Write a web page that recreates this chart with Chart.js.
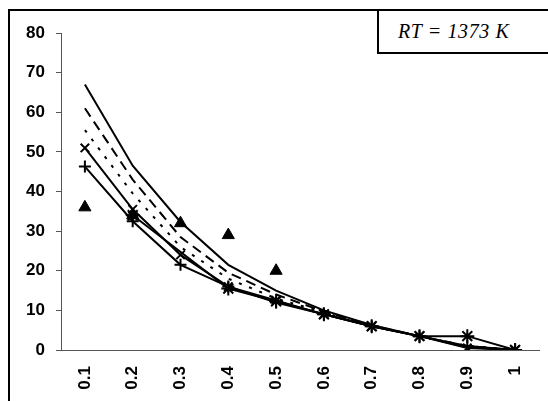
<!DOCTYPE html>
<html lang="en">
<head>
    <meta charset="UTF-8">
    <title>RT = 1373 K</title>
    <script src="https://cdn.jsdelivr.net/npm/chart.js"></script>
    <style>
        body { margin: 0; background: #fff; }
        #wrap { position: relative; width: 548px; height: 401px; overflow: hidden; }
        #frame { position: absolute; left: 8px; top: 9px; width: 600px; height: 500px;
                 border-top: 2px solid #000; border-left: 2px solid #000; }
        #rtBox { position: absolute; left: 377px; top: 9px; width: 200px; height: 41px;
                 border-top: 2px solid #000; border-left: 2px solid #000; border-bottom: 2px solid #000;
                 font: italic 20px "Liberation Serif", "Times New Roman", serif; letter-spacing: 0.6px;
                 line-height: 41px; padding-left: 19px; box-sizing: content-box; background: #fff; }
        canvas { position: absolute; left: 0; top: 0; }
    </style>
</head>
<body>
<div id="wrap">
    <div id="frame"></div>
    <canvas id="chart" width="548" height="401"></canvas>
    <div id="rtBox">RT = 1373 K</div>
</div>

<script>
    // x categories and the series
    const categories = ['0.1', '0.2', '0.3', '0.4', '0.5', '0.6', '0.7', '0.8', '0.9', '1'];
    const solidTop   = [67, 46.5, 32.3, 21.5, 15, 10, 6.3, 3.5, 0.7, 0];
    const dashed     = [61, 43, 28.5, 19.5, 14, 9.7, 6.2, 3.5, 1, 0];
    const dotted     = [55.5, 39.5, 26, 18, 13, 9.5, 6, 3.5, 1, 0];
    const crossLine  = [51, 35.5, 24, 16, 12.5, 9, 6, 3.5, 0.5, 0];
    const plusLine   = [46.3, 32.5, 21.5, 16, 12, 9, 6, 3.5, 1, 0];
    const starLine   = [null, 34, null, 15.5, 12.3, 9, 6, 3.5, 3.5, 0];
    const triangles  = [36, 34, 32, 29, 20, null, null, null, null, null];
    const yTicks = [0, 10, 20, 30, 40, 50, 60, 70, 80];

    const tickFont = { family: 'Liberation Sans, Arial, sans-serif', size: 17, weight: 'bold' };

    function lineSet(data, dash, style, radius) {
        return {
            data: data,
            borderColor: '#000',
            backgroundColor: '#000',
            borderWidth: 2,
            borderDash: dash,
            pointStyle: style || 'circle',
            pointRadius: style ? radius : 0,
            pointBorderWidth: 2,
            pointBorderColor: '#000',
            tension: 0,
            spanGaps: true
        };
    }

    const ctx = document.getElementById('chart').getContext('2d');
    new Chart(ctx, {
        type: 'line',
        data: {
            labels: categories,
            datasets: [
                lineSet(solidTop, []),
                lineSet(dashed, [10, 6]),
                lineSet(dotted, [3, 8]),
                lineSet(crossLine, [], 'crossRot', 6),
                lineSet(plusLine, [], 'cross', 6),
                lineSet(starLine, [], 'star', 7),
                {
                    data: triangles,
                    showLine: false,
                    pointStyle: 'triangle',
                    pointRadius: 7,
                    pointBackgroundColor: '#000',
                    pointBorderColor: '#000',
                    pointBorderWidth: 1
                }
            ]
        },
        options: {
            responsive: false,
            animation: false,
            layout: { padding: { top: 33, right: 8, left: 0, bottom: 0 } },
            plugins: { legend: { display: false }, tooltip: { enabled: false } },
            scales: {
                x: {
                    offset: true,
                    grid: { display: false },
                    border: { display: true, color: '#555', width: 1 },
                    ticks: { font: tickFont, color: '#000', minRotation: 90, maxRotation: 90, padding: 8 },
                    afterFit: (s) => { s.height = 51; }
                },
                y: {
                    min: 0,
                    max: 80,
                    afterBuildTicks: (s) => { s.ticks = yTicks.map(v => ({ value: v })); },
                    grid: { drawOnChartArea: false, drawTicks: true, tickLength: 5, color: '#555' },
                    border: { display: true, color: '#555', width: 1 },
                    ticks: { font: tickFont, color: '#000', padding: 11 },
                    afterFit: (s) => { s.width = 61; }
                }
            }
        }
    });
</script>
</body>
</html>
